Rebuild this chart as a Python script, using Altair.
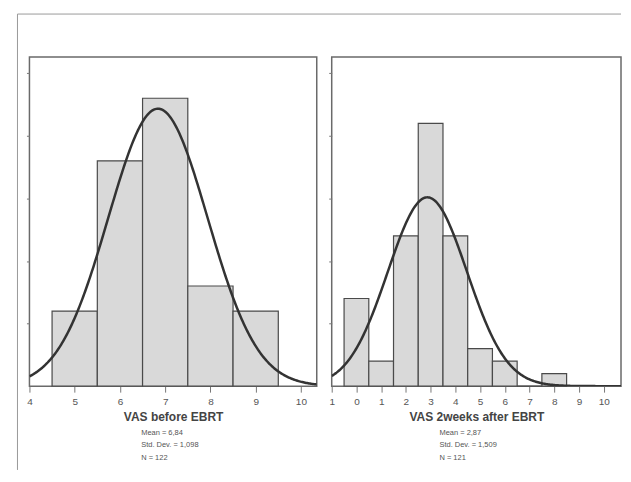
import altair as alt
import numpy as np
import pandas as pd

# ---- data ----
left_bins = [5, 6, 7, 8, 9]
left_counts = [12, 36, 46, 16, 12]
right_bins = [0, 1, 2, 3, 4, 5, 6, 7, 8]
right_counts = [14, 4, 24, 42, 24, 6, 4, 0, 2]

left_stats = ["Mean = 6,84", "Std. Dev. = 1,098", "N = 122"]
right_stats = ["Mean = 2,87", "Std. Dev. = 1,509", "N = 121"]

left_mean, left_sd, left_n = 6.84, 1.098, 122
right_mean, right_sd, right_n = 2.87, 1.6, 121   # curve width as drawn in the picture

left_ticks = [4, 5, 6, 7, 8, 9, 10]
right_ticks = [-1, 0, 1, 2, 3, 4, 5, 6, 7, 8, 9, 10]
y_ticks = [10, 20, 30, 40, 50]

left_domain = [4, 10.35]
right_domain = [-1, 10.7]
y_domain = [0, 52.6]

FONT = "Liberation Sans"


def panel(bins, counts, mean, sd, n, dom, ticks, title, stats, width, label_expr=None, frame=False):
    bars_df = pd.DataFrame({
        "lo": [b - 0.5 for b in bins],
        "hi": [b + 0.5 for b in bins],
        "count": counts,
        "base": [0] * len(bins),
    })
    xs = np.linspace(dom[0], dom[1], 300)
    ys = n * np.exp(-0.5 * ((xs - mean) / sd) ** 2) / (sd * np.sqrt(2 * np.pi))
    curve_df = pd.DataFrame({"x": xs, "y": ys})

    x_scale = alt.Scale(domain=dom, nice=False, zero=False)
    y_scale = alt.Scale(domain=y_domain, nice=False)
    axis_kwargs = dict(values=ticks, tickSize=6, tickColor="#777777", tickWidth=1,
                       domain=False, grid=False, labelFontSize=10, labelColor="#555555",
                       labelPadding=4, labelFlush=False, title=title, titleFontSize=12,
                       titleFontWeight="bold", titleColor="#444444", titlePadding=5,
                       labelFont=FONT, titleFont=FONT)
    if label_expr:
        axis_kwargs["labelExpr"] = label_expr
    x_axis = alt.Axis(**axis_kwargs)
    y_axis = alt.Axis(values=y_ticks, labels=False, tickSize=3, tickColor="#777777",
                      domain=False, grid=False, title=None)

    bars = alt.Chart(bars_df).mark_rect(fill="#d9d9d9", stroke="#4a4a4a", strokeWidth=1.2).encode(
        x=alt.X("lo:Q", scale=x_scale, axis=x_axis),
        x2="hi:Q",
        y=alt.Y("count:Q", scale=y_scale, axis=y_axis),
        y2="base:Q",
    )
    line = alt.Chart(curve_df).mark_line(color="#333333", strokeWidth=2.5, clip=True).encode(
        x=alt.X("x:Q", scale=x_scale, axis=x_axis),
        y=alt.Y("y:Q", scale=y_scale, axis=y_axis),
    )
    txt = alt.Chart(alt.Data(values=[{}])).mark_text(
        align="left", baseline="top", fontSize=7.5, lineHeight=12.5, lineBreak="\n",
        color="#555555", font=FONT,
    ).encode(x=alt.value(112 if frame else 108), y=alt.value(373), text=alt.value("\n".join(stats)))

    layers = [bars, line, txt]
    if frame:
        one = alt.Data(values=[{}])
        fr = dict(color="#9a9a9a", strokeWidth=1)
        top = alt.Chart(one).mark_rule(**fr).encode(x=alt.value(-12), x2=alt.value(593), y=alt.value(-43))
        lft = alt.Chart(one).mark_rule(**fr).encode(x=alt.value(-12), y=alt.value(-43), y2=alt.value(414))
        layers += [top, lft]
    return alt.layer(*layers).properties(width=width, height=330)


left = panel(left_bins, left_counts, left_mean, left_sd, left_n, left_domain, left_ticks,
             "VAS before EBRT", left_stats, 288, frame=True)
right = panel(right_bins, right_counts, right_mean, right_sd, right_n, right_domain, right_ticks,
              "VAS 2weeks after EBRT", right_stats, 290,
              label_expr="datum.value < 0 ? '1' : datum.label")

chart = alt.hconcat(left, right, spacing=15, bounds="flush").properties(
    padding={"left": 7.5, "top": 3.5, "right": 0, "bottom": 0},
    background="white",
).configure_view(stroke="#6a6a6a", strokeWidth=1.5)

chart.save("out.html", embed_options={"renderer": "svg", "actions": False})
